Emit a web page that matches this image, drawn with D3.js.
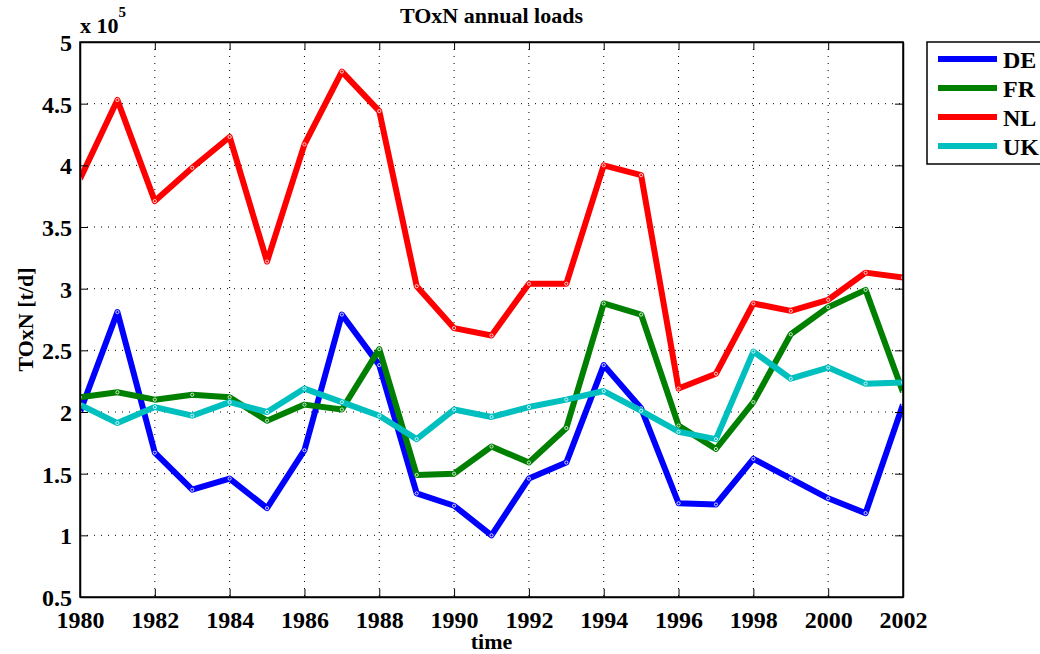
<!DOCTYPE html>
<html lang="en">
<head>
<meta charset="UTF-8">
<title>TOxN annual loads</title>
<script src="https://d3js.org/d3.v7.min.js"></script>
<style>
    body { margin: 0; background: #fff; }
    text { font-family: "Liberation Serif", "Times New Roman", serif; font-weight: bold; fill: #000; }
    .grid line { stroke: #000; stroke-width: 1; stroke-dasharray: 1,6; }
    .series { fill: none; stroke-width: 6; stroke-linejoin: round; }
</style>
</head>
<body>
<div id="chart"></div>
<script>
    var years = d3.range(1980, 2003);
    var de = [2.00, 2.81, 1.67, 1.37, 1.46, 1.22, 1.69, 2.79, 2.38, 1.34, 1.24, 1.00,
              1.46, 1.59, 2.38, 2.03, 1.26, 1.25, 1.62, 1.46, 1.30, 1.18, 2.06];
    var fr = [2.12, 2.16, 2.10, 2.14, 2.12, 1.93, 2.06, 2.02, 2.51, 1.49, 1.50, 1.72,
              1.59, 1.87, 2.88, 2.79, 1.89, 1.70, 2.08, 2.63, 2.85, 2.99, 2.16];
    var nl = [3.89, 4.53, 3.71, 3.98, 4.23, 3.22, 4.17, 4.76, 4.44, 3.02, 2.68, 2.62,
              3.04, 3.04, 4.00, 3.92, 2.19, 2.31, 2.88, 2.82, 2.91, 3.13, 3.09];
    var uk = [2.06, 1.91, 2.04, 1.97, 2.08, 2.00, 2.19, 2.08, 1.97, 1.78, 2.02, 1.96,
              2.04, 2.10, 2.17, 2.01, 1.84, 1.78, 2.49, 2.27, 2.36, 2.23, 2.24];
    var names = ["DE", "FR", "NL", "UK"];
    var colors = ["#0000ff", "#008000", "#ff0000", "#00bfbf"];
    var xTicks = d3.range(1980, 2003, 2);
    var yTicks = [0.5, 1, 1.5, 2, 2.5, 3, 3.5, 4, 4.5, 5];

    var W = 1040, H = 654;
    var margin = { top: 42, right: 137, bottom: 57, left: 80 };
    var width = W - margin.left - margin.right,
        height = H - margin.top - margin.bottom;

    var svg = d3.select("#chart").append("svg")
        .attr("width", W)
        .attr("height", H);

    var g = svg.append("g")
        .attr("transform", "translate(" + margin.left + "," + margin.top + ")");

    var x = d3.scaleLinear().domain([1980, 2002]).range([0, width]);
    var y = d3.scaleLinear().domain([0.5, 5]).range([height, 0]);

    // dotted grid
    var grid = g.append("g").attr("class", "grid");
    grid.selectAll(".gx").data(xTicks.slice(1, -1)).enter().append("line")
        .attr("x1", d => x(d)).attr("x2", d => x(d))
        .attr("y1", 0).attr("y2", height);
    grid.selectAll(".gy").data(yTicks.slice(1, -1)).enter().append("line")
        .attr("x1", 0).attr("x2", width)
        .attr("y1", d => y(d)).attr("y2", d => y(d));

    // series
    svg.append("defs").append("clipPath").attr("id", "clip")
        .append("rect").attr("width", width).attr("height", height);

    var line = d3.line().x((d, i) => x(years[i])).y(d => y(d));
    var series = [de, fr, nl, uk];
    var plot = g.append("g").attr("clip-path", "url(#clip)");
    series.forEach(function(s, k) {
        plot.append("path")
            .attr("class", "series")
            .attr("stroke", colors[k])
            .attr("d", line(s));
        plot.selectAll(".m" + k).data(s).enter().append("circle")
            .attr("cx", (d, i) => x(years[i]))
            .attr("cy", d => y(d))
            .attr("r", 1.6)
            .attr("fill", "none")
            .attr("stroke", "#fff")
            .attr("stroke-width", 0.8);
    });

    // axes (ticks inside, box all round)
    var fmtY = d => d3.format("")(d);
    var xAxis = g.append("g").attr("transform", "translate(0," + height + ")")
        .call(d3.axisBottom(x).tickValues(xTicks).tickFormat(d3.format("d"))
            .tickSizeInner(-8).tickSizeOuter(0).tickPadding(14));
    var yAxis = g.append("g")
        .call(d3.axisLeft(y).tickValues(yTicks).tickFormat(fmtY)
            .tickSizeInner(-8).tickSizeOuter(0).tickPadding(8));
    g.append("g")
        .call(d3.axisTop(x).tickValues(xTicks).tickFormat("").tickSizeInner(-8).tickSizeOuter(0));
    g.append("g").attr("transform", "translate(" + width + ",0)")
        .call(d3.axisRight(y).tickValues(yTicks).tickFormat("").tickSizeInner(-8).tickSizeOuter(0));
    g.selectAll(".domain").attr("stroke", "#000").attr("stroke-width", 1.5);
    g.selectAll(".tick line").attr("stroke", "#000").attr("stroke-width", 1);
    xAxis.selectAll("text").style("font-size", "24px").attr("dy", "0.71em");
    yAxis.selectAll("text").style("font-size", "24px").attr("dy", "0.36em");
    g.append("rect").attr("width", width).attr("height", height)
        .attr("fill", "none").attr("stroke", "#000").attr("stroke-width", 1.5);

    // texts
    svg.append("text").attr("x", margin.left + width / 2).attr("y", 23)
        .attr("text-anchor", "middle").style("font-size", "22px")
        .text("TOxN annual loads");
    var exp = svg.append("text").attr("x", margin.left).attr("y", 33).style("font-size", "22px");
    exp.append("tspan").text("x 10");
    exp.append("tspan").attr("dy", -16).style("font-size", "15px").text("5");
    svg.append("text").attr("x", margin.left + width / 2).attr("y", 649)
        .attr("text-anchor", "middle").style("font-size", "22px").text("time");
    svg.append("text")
        .attr("transform", "translate(33," + (margin.top + height / 2) + ") rotate(-90)")
        .attr("text-anchor", "middle").style("font-size", "22px")
        .text("TOxN [t/d]");

    // legend
    var lg = svg.append("g").attr("transform", "translate(927,42)");
    lg.append("rect").attr("width", 130).attr("height", 122)
        .attr("fill", "#fff").attr("stroke", "#000").attr("stroke-width", 1.5);
    names.forEach(function(n, k) {
        var yy = 17 + k * 29;
        lg.append("line").attr("x1", 11).attr("x2", 70).attr("y1", yy).attr("y2", yy)
            .attr("stroke", colors[k]).attr("stroke-width", 6);
        lg.append("text").attr("x", 76).attr("y", yy).attr("dy", "0.36em")
            .style("font-size", "24px").text(n);
    });
</script>
</body>
</html>
